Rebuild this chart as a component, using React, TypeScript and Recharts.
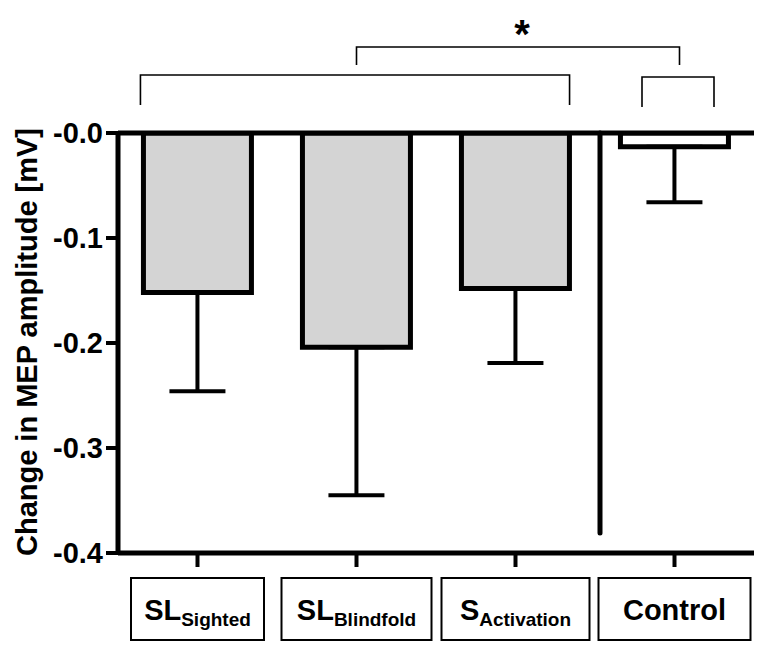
import React from "react";
import {
  BarChart,
  Bar,
  XAxis,
  YAxis,
  ReferenceLine,
  ErrorBar,
  Cell,
} from "recharts";

// categories (main part + subscript)
const categories = ["SL_Sighted", "SL_Blindfold", "S_Activation", "Control"];
const mainLabels = ["SL", "SL", "S", "Control"];
const subLabels = ["Sighted", "Blindfold", "Activation", ""];

// mean change (mV) and error going downward
const means = [-0.152, -0.204, -0.148, -0.013];
const errors = [0.094, 0.141, 0.071, 0.053];

const yTicks = [0, -0.1, -0.2, -0.3, -0.4];

const data = categories.map((c, i) => ({
  name: c,
  value: means[i],
  err: [errors[i], 0],
}));

const FONT = "'Liberation Sans', Arial, sans-serif";
const W = 754;
const H = 641;
const PLOT_LEFT = 110;
const PLOT_TOP = 125;
const PLOT_RIGHT = 746;
const BAND = (PLOT_RIGHT - PLOT_LEFT) / categories.length;

// boxes around the category labels
const boxWidths = [133, 150, 148, 152];

const CategoryTick = (props: any) => {
  const { x, y, index } = props;
  const bw = boxWidths[index] ?? 140;
  const top = y + 9;
  return (
    <g>
      <rect
        x={x - bw / 2}
        y={top}
        width={bw}
        height={62}
        fill="#fff"
        stroke="#000"
        strokeWidth={2}
      />
      <text
        x={x}
        y={top + 42}
        textAnchor="middle"
        fontFamily={FONT}
        fontWeight="bold"
        fontSize={29}
        fill="#000"
      >
        {mainLabels[index]}
        {subLabels[index] ? (
          <tspan fontSize={19} dy={6}>
            {subLabels[index]}
          </tspan>
        ) : null}
      </text>
    </g>
  );
};

const App = () => {
  // bracket x positions from band layout
  const barInset = BAND * 0.16;
  const leftA = PLOT_LEFT + barInset - 3;
  const leftB = PLOT_LEFT + 3 * BAND - barInset;
  const midA = PLOT_LEFT + 1.5 * BAND;
  const midB = PLOT_LEFT + 3.5 * BAND + 5;
  const rightA = PLOT_LEFT + 3 * BAND + 47;
  const rightB = PLOT_LEFT + 4 * BAND - 40;
  const splitX = PLOT_LEFT + 3 * BAND + 5;

  return (
    <div style={{ position: "relative", width: W, height: H }}>
      <BarChart
        width={W}
        height={H}
        data={data}
        margin={{ top: PLOT_TOP, right: W - PLOT_RIGHT, left: 30, bottom: 6 }}
        barCategoryGap="16%"
      >
        <XAxis
          dataKey="name"
          height={90}
          axisLine={{ stroke: "#000", strokeWidth: 5 }}
          tickLine={{ stroke: "#000", strokeWidth: 4 }}
          tickSize={14}
          tickMargin={2}
          tick={<CategoryTick />}
          interval={0}
        />
        <YAxis
          width={80}
          domain={[-0.4, 0]}
          ticks={yTicks}
          allowDataOverflow
          axisLine={{ stroke: "#000", strokeWidth: 5 }}
          tickLine={{ stroke: "#000", strokeWidth: 4 }}
          tickSize={12}
          tickMargin={3}
          tick={{
            fill: "#000",
            fontSize: 29,
            fontWeight: "bold",
            fontFamily: FONT,
          }}
          tickFormatter={(v: number) => (v === 0 ? "-0.0" : v.toFixed(1))}
        />
        <Bar
          dataKey="value"
          stroke="#000"
          strokeWidth={5}
          isAnimationActive={false}
        >
          {data.map((d, i) => (
            <Cell key={d.name} fill={i === 3 ? "#ffffff" : "#d4d4d4"} />
          ))}
          <ErrorBar
            dataKey="err"
            direction="y"
            width={28}
            stroke="#000"
            strokeWidth={4}
            isAnimationActive={false}
          />
        </Bar>
        <ReferenceLine y={0} stroke="#000" strokeWidth={5} ifOverflow="extendDomain" />
      </BarChart>
      <svg
        width={W}
        height={H}
        style={{ position: "absolute", left: 0, top: 0, pointerEvents: "none" }}
      >
        {/* axis break line */}
        <line
          x1={splitX}
          x2={splitX}
          y1={PLOT_TOP}
          y2={525}
          stroke="#000"
          strokeWidth={5}
          strokeLinecap="round"
        />
        {/* significance brackets */}
        <polyline
          points={`${leftA},97 ${leftA},67 ${leftB},67 ${leftB},97`}
          fill="none"
          stroke="#000"
          strokeWidth={1.6}
        />
        <polyline
          points={`${midA},57 ${midA},39 ${midB},39 ${midB},57`}
          fill="none"
          stroke="#000"
          strokeWidth={1.6}
        />
        <polyline
          points={`${rightA},99 ${rightA},69 ${rightB},69 ${rightB},99`}
          fill="none"
          stroke="#000"
          strokeWidth={1.6}
        />
        <text
          x={(midA + midB) / 2 + 4}
          y={40}
          textAnchor="middle"
          fontFamily={FONT}
          fontWeight="bold"
          fontSize={40}
          fill="#000"
        >
          *
        </text>
        <text
          transform="translate(29, 334) rotate(-90)"
          textAnchor="middle"
          fontFamily={FONT}
          fontWeight="bold"
          fontSize={29}
          fill="#000"
        >
          Change in MEP amplitude [mV]
        </text>
      </svg>
    </div>
  );
};

export default App;
